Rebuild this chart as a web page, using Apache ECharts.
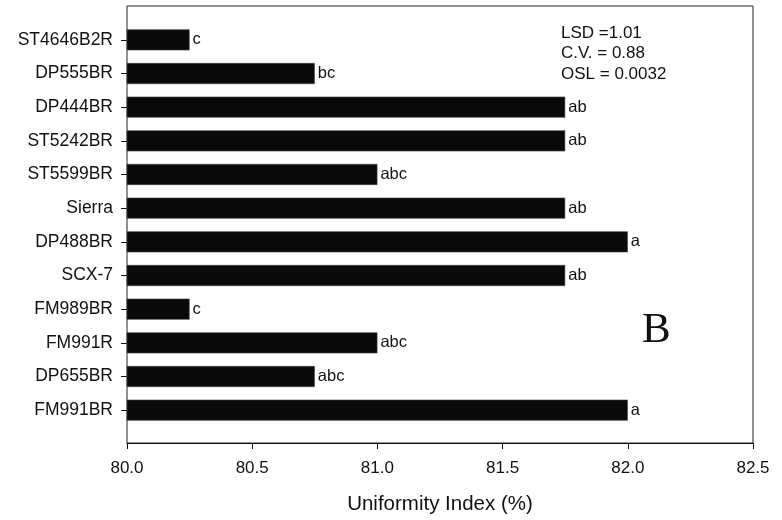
<!DOCTYPE html>
<html>
<head>
<meta charset="utf-8">
<script src="https://cdn.jsdelivr.net/npm/echarts@6/dist/echarts.min.js"></script>
<style>
html,body{margin:0;padding:0;background:#fff;}
#chart{width:782px;height:520px;}
</style>
</head>
<body>
<div id="chart"></div>
<script>
var categories = ['ST4646B2R','DP555BR','DP444BR','ST5242BR','ST5599BR','Sierra','DP488BR','SCX-7','FM989BR','FM991R','DP655BR','FM991BR'];
var values = [80.25, 80.75, 81.75, 81.75, 81.0, 81.75, 82.0, 81.75, 80.25, 81.0, 80.75, 82.0];
var letters = ['c','bc','ab','ab','abc','ab','a','ab','c','abc','abc','a'];
var xTicks = [80.0, 80.5, 81.0, 81.5, 82.0, 82.5];
var statsText = ['LSD =1.01', 'C.V. = 0.88', 'OSL = 0.0032'];
var panelLetter = 'B';
var xTitle = 'Uniformity Index (%)';

var FONT = '"Liberation Sans", Arial, sans-serif';
var chart = echarts.init(document.getElementById('chart'), null, {renderer: 'canvas'});
chart.setOption({
  animation: false,
  backgroundColor: '#fff',
  grid: [
    {left: 127, right: 29, top: 23, bottom: 93, containLabel: false},
    {left: 127, right: 29, top: 6, bottom: 77, show: true, borderColor: '#222', borderWidth: 1, backgroundColor: 'transparent'}
  ],
  xAxis: [
    {
      type: 'value', gridIndex: 0, position: 'bottom', offset: 16,
      min: xTicks[0], max: xTicks[xTicks.length - 1], interval: 0.5,
      splitLine: {show: false},
      axisLine: {show: true, lineStyle: {color: '#111', width: 1}},
      axisTick: {show: true, inside: false, length: 6, lineStyle: {color: '#111'}},
      axisLabel: {margin: 17, fontSize: 17, color: '#111', fontFamily: FONT,
        formatter: function (v) { return v.toFixed(1); }},
      name: xTitle, nameLocation: 'middle', nameGap: 51,
      nameTextStyle: {fontSize: 20.5, color: '#111', fontFamily: FONT}
    },
    {type: 'value', gridIndex: 1, show: false, min: 0, max: 1}
  ],
  yAxis: [
    {
      type: 'category', gridIndex: 0, data: categories, inverse: true,
      axisLine: {show: false},
      axisTick: {show: true, inside: false, length: 6, alignWithLabel: true, lineStyle: {color: '#111'}},
      axisLabel: {margin: 14, fontSize: 17.5, color: '#111', fontFamily: FONT},
      splitLine: {show: false}
    },
    {type: 'value', gridIndex: 1, show: false, min: 0, max: 1}
  ],
  series: [{
    type: 'bar', xAxisIndex: 0, yAxisIndex: 0,
    data: values,
    barWidth: 21,
    clip: true,
    itemStyle: {color: '#0a0a0a', borderColor: '#444', borderWidth: 0.6},
    label: {
      show: true, position: 'right', distance: 3,
      fontSize: 16.5, color: '#111', fontFamily: FONT,
      formatter: function (p) { return letters[p.dataIndex]; }
    }
  }],
  graphic: [
    {
      type: 'text', left: 561, top: 23,
      style: {text: statsText.join('\n'), fontSize: 17, lineHeight: 20.5, fill: '#111', fontFamily: FONT}
    },
    {
      type: 'text', left: 642, top: 309,
      style: {text: panelLetter, fontSize: 43, fill: '#111', fontFamily: '"Liberation Serif", "Times New Roman", serif'}
    }
  ]
});
</script>
</body>
</html>
